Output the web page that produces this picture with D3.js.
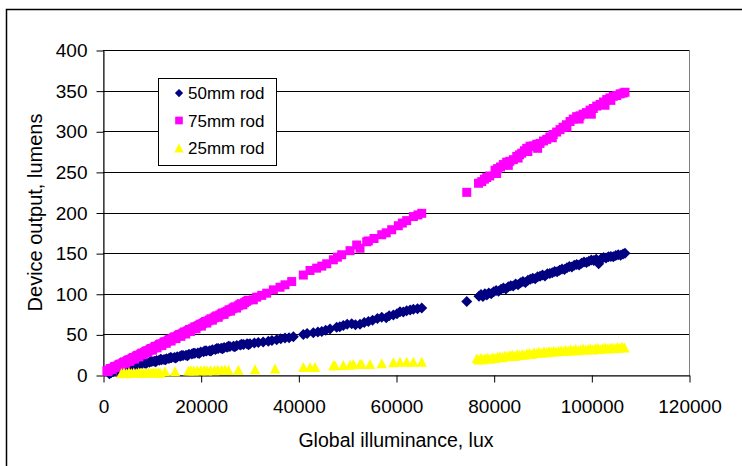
<!DOCTYPE html>
<html>
<head>
<meta charset="utf-8">
<script src="https://cdnjs.cloudflare.com/ajax/libs/d3/7.8.5/d3.min.js"></script>
<style>
  html, body { margin: 0; padding: 0; background: #fff; }
  svg { display: block; }
  text { font-family: "Liberation Sans", Arial, sans-serif; fill: #000; }
</style>
</head>
<body>
<svg id="chart" width="742" height="466"></svg>
<script>
// ---------------- DATA ----------------
const xTicks = [0, 20000, 40000, 60000, 80000, 100000, 120000];
const yTicks = [0, 50, 100, 150, 200, 250, 300, 350, 400];
const seriesNames = ["50mm rod", "75mm rod", "25mm rod"];
const seriesColors = ["#000080", "#FF00FF", "#FFFF00"];
const xTitle = "Global illuminance, lux";
const yTitle = "Device output, lumens";

// 50mm rod
const rod50X = [1300,1500,1700,2100,2300,2500,2900,3100,3300,3700,3900,4100,4600,4800,5000,5500,5800,6000,6500,6800,7000,7500,7800,8000,8500,8800,9000,9500,9800,10000,10500,10800,11000,11500,11800,12000,12500,12800,13000,13500,13800,14000,14600,14900,15200,15800,16100,16400,17000,17300,17600,18200,18500,18800,19400,19700,20000,20600,20900,21200,21800,22100,22400,23000,23300,23600,24200,24500,24800,25400,25700,26000,26700,27000,27400,28100,28400,28800,29500,29800,
  30100,31000,31810,32800,33850,34600,35570,36400,37270,38100,38980,41020,41800,43070,44000,44790,45600,46490,47860,48500,49210,50000,50930,51700,52630,53500,54340,55200,56200,57080,58000,58600,59460,60200,60820,61500,62190,62900,63560,64400,65270,
  74490,77000,77400,77800,78200,78600,79000,79500,80000,80500,81000,81500,82000,82500,83000,83500,84000,84500,85000,85500,86000,86500,87000,87500,88000,88500,89000,89500,90000,90500,91000,91500,92000,92500,93000,93500,94000,94500,95000,95500,96000,96500,97000,97500,98000,98500,99000,99500,100000,100500,101000,101500,102000,102500,103000,103500,104000,104500,105000,105500,106000,106500,106900];
const rod50Y = [1.5,2.5,3.0,4.2,5.8,5.5,6.8,6.5,7.9,8.9,9.8,9.6,10.4,9.5,10.8,11.6,12.6,12.0,12.7,12.0,13.1,13.8,14.9,14.1,14.8,14.1,15.3,15.7,16.9,16.5,16.9,16.4,17.8,18.1,19.3,18.9,19.2,18.8,20.0,20.3,21.4,21.2,21.6,21.0,22.6,23.0,24.1,24.0,24.3,23.6,25.4,25.8,26.9,26.8,27.1,26.4,28.3,28.6,29.8,29.6,30.0,29.4,31.0,31.3,32.6,32.5,32.8,32.2,33.8,34.2,35.4,35.0,35.5,34.7,36.4,37.0,37.9,37.6,38.4,37.2,
  38.5,39.5,40,40.5,41.5,42.5,43.5,44.5,45.5,46,47,50,51,52,53,53.5,55,56.5,58.8,59.5,61,62.5,63,62,62.5,64.5,66,67.5,69.5,71,70.5,73,74,75.5,78,77.5,79,80,81,81.5,82.5,
  90.5,97,99,96.5,100,98.5,101,100,102.5,104,103,105.5,107,106,108.5,110,109.5,112,111,113.5,115,114,116.5,118,119,118.5,121,121.5,123,122,124.5,125,126,127.5,127,129,130.5,130,132,133.5,133,135,136,135.5,137.5,139,138.5,140,141.5,141,142.5,137,143,144.5,144,145.5,146,145.5,147,148,147.5,149,150];

// 75mm rod
const rod75X = [800,1000,1200,1450,1700,1900,2100,2350,2600,2800,3000,3250,3500,3700,3900,4150,4400,4600,4800,5050,5300,5500,5700,5950,6200,6450,6700,6900,7100,7350,7600,7800,8000,8250,8500,8750,9000,9200,9400,9650,9900,10150,10400,10600,10800,11050,11300,11550,11800,12050,12300,12500,12700,12950,13200,13450,13700,13950,14200,14450,14700,14950,15200,15450,15700,15950,16200,16450,16700,16950,17200,17450,17700,17950,18300,18550,18800,19050,19300,19600,19900,20150,20400,20700,21000,21250,21500,21800,22100,22400,22700,23000,23300,23600,23900,24200,24500,24800,25100,25450,25800,26100,26400,26700,27000,27350,27700,28000,28300,28650,29000,29350,29700,
  30780,31480,32500,33520,34890,36250,37270,38640,41020,42390,43760,44800,45810,47170,48000,48880,50590,51950,52630,54000,54340,55500,57080,58000,59120,60480,61300,62190,63560,64500,65270,
  74490,76900,77560,78100,78580,79200,80280,80600,80800,81400,81980,82670,83000,83300,84030,84720,85000,85300,85750,86300,86770,87000,87450,88100,88820,89000,89500,90200,90870,91500,92000,92200,92900,93590,94200,94900,95000,95640,96300,97000,97500,97690,98300,99000,99740,100000,100400,101100,101790,102500,102800,103150,103800,104000,104510,105200,105900,106500,106900];
const rod75Y = [5.3,4.2,5.8,7.9,8.0,6.9,8.5,10.2,10.7,9.4,11.1,12.7,13.4,12.0,13.9,15.3,16.1,14.4,16.5,17.9,18.8,16.8,19.2,20.5,21.5,19.6,22.2,23.4,24.2,22.3,24.9,26.1,26.9,25.0,27.6,28.9,29.9,27.8,30.3,31.8,32.6,30.6,33.3,34.6,35.3,33.4,36.0,37.4,38.3,36.2,39.0,40.3,41.0,39.0,41.7,43.1,44.0,41.8,44.7,46.0,47.0,44.8,47.7,48.9,50.0,47.6,50.7,51.8,53.0,50.5,53.7,54.6,56.0,53.6,57.0,57.6,59.3,56.9,60.0,60.9,62.6,60.2,63.3,64.6,65.9,63.9,66.6,67.7,69.2,67.5,70.2,71.5,72.8,71.0,73.8,75.1,76.4,74.6,77.4,78.4,80.3,78.6,81.3,82.6,83.9,82.4,85.2,86.5,87.8,86.4,89.1,90.5,92.0,
  92.5,95.8,98,100.7,104.8,108,111,115,123,128.6,131.5,134,136.9,141.8,145,148,153,160,156,164,165,168,172.6,175,178.8,183.7,187,190,195,197,199,
  224.8,236,238,241,243,245,252,248,254,256,259,262,258,263,265,269,267,271,273,276,279,275,281.5,282,284,279,285,288,290,293,292,296,299,302,305,308,305,312,315,318,315,319,321,323,326,321,328,331,333,336,332,339,341,338,343,344,346,347,348];

// 25mm rod
const rod25X = [3800,4300,4800,5300,5800,6300,6800,7300,7800,8300,8800,9300,9800,10300,10800,11300,11700,12700,14750,17500,18000,18600,19300,20000,20700,21300,22000,22800,23500,24300,25000,25700,27710,31130,35230,41020,42390,43420,47170,47510,49210,50590,51260,52630,52970,54680,57080,59460,60820,62190,63560,65270,
  76530,77000,77400,77800,78300,78800,79300,79800,80300,80800,81300,81800,82300,82800,83300,83800,84300,84800,85300,85800,86300,86800,87300,87800,88300,88800,89300,89800,90300,90800,91300,91800,92300,92800,93300,93800,94300,94800,95300,95800,96300,96800,97300,97800,98300,98800,99300,99800,100300,100800,101300,101800,102300,102800,103300,103800,104300,104800,105300,105800,106300,106800];
const rod25Y = [2.5,3.0,2.2,3.3,2.6,3.1,2.4,3.5,2.8,3.2,2.5,3.4,2.9,3.6,3.0,3.3,2.7,4.5,4.5,5.5,6.0,5.5,6.0,5.8,6.2,5.6,6.3,5.9,6.5,6.4,6.8,6.3,6.5,7.0,8.0,10,10,10,12,12,12.3,12.5,13.6,13.6,13.5,13.5,14.4,15.6,16.4,16.4,16.4,16.4,
  20.5,19,21,19.5,20.5,21.5,20,22,21,22.5,23,22,24,23,24.5,25,23.5,25.5,24.5,26,25,26.5,27,26,28,27,28.5,27.5,29,28,29.5,28.5,30,29,29.5,30.5,29.5,31,30,31.5,30.5,32,30.5,31.5,32.5,31,32,33,31.5,32.5,33.5,32,33,34,32.5,33.5,34,33,34.5,33.5,35,34];

// ---------------- CHART ----------------
const svg = d3.select("#chart");
const W = 742, H = 466;
const plot = {left: 103, right: 689, top: 50, bottom: 375};

svg.append("rect").attr("x", 0).attr("y", 0).attr("width", W).attr("height", H).attr("fill", "#fff");
// outer chart border
svg.append("rect").attr("x", 6.5).attr("y", 9.5).attr("width", 800).attr("height", 600)
  .attr("fill", "none").attr("stroke", "#000").attr("stroke-width", 1.5);

const x = d3.scaleLinear().domain([0, 120000]).range([plot.left, plot.right]);
const y = d3.scaleLinear().domain([0, 400]).range([plot.bottom, plot.top]);

// plot area border
svg.append("rect").attr("x", plot.left + 0.5).attr("y", plot.top + 0.5)
  .attr("width", plot.right - plot.left).attr("height", plot.bottom - plot.top)
  .attr("fill", "#fff").attr("stroke", "#808080").attr("stroke-width", 1);

// gridlines
svg.append("g").selectAll("line").data(yTicks.filter(d => d > 0)).join("line")
  .attr("x1", plot.left).attr("x2", plot.right)
  .attr("y1", d => Math.round(y(d)) + 0.5).attr("y2", d => Math.round(y(d)) + 0.5)
  .attr("stroke", "#000").attr("stroke-width", 1);

// axes
const yAxis = svg.append("g").attr("transform", `translate(${plot.left + 0.5},0.5)`)
  .call(d3.axisLeft(y).tickValues(yTicks).tickSize(7).tickPadding(9).tickSizeOuter(0));
yAxis.select(".domain").attr("stroke", "#000");
yAxis.selectAll(".tick line").attr("stroke", "#000");
yAxis.selectAll("text").attr("font-size", "19px").style("font-family", '"Liberation Sans", Arial, sans-serif');

const xAxis = svg.append("g").attr("transform", `translate(0.5,${plot.bottom + 0.5})`)
  .call(d3.axisBottom(x).tickValues(xTicks).tickSize(7).tickSizeOuter(0).tickFormat(d3.format("d")));
xAxis.select(".domain").attr("stroke", "#000");
xAxis.selectAll(".tick line").attr("stroke", "#000");
xAxis.selectAll("text").attr("font-size", "19px").attr("y", 37).attr("dy", 0)
  .style("font-family", '"Liberation Sans", Arial, sans-serif');

// axis titles
svg.append("text").attr("x", (plot.left + plot.right) / 2).attr("y", 446.5)
  .attr("text-anchor", "middle").attr("font-size", "19.5px").text(xTitle);
svg.append("text").attr("transform", `translate(42,${(plot.top + plot.bottom) / 2}) rotate(-90)`)
  .attr("text-anchor", "middle").attr("font-size", "20px").text(yTitle);

// markers
const shapes = {
  diamond: "M0,-5.5L5.5,0L0,5.5L-5.5,0Z",
  square: "M-4.5,-4.5L4.5,-4.5L4.5,4.5L-4.5,4.5Z",
  triangle: "M0,-5L5.2,5L-5.2,5Z"
};
const series = [
  {xs: rod50X, ys: rod50Y, shape: shapes.diamond, color: seriesColors[0]},
  {xs: rod75X, ys: rod75Y, shape: shapes.square, color: seriesColors[1]},
  {xs: rod25X, ys: rod25Y, shape: shapes.triangle, color: seriesColors[2]}
];
series.forEach(s => {
  const pts = s.xs.map((v, i) => [v, s.ys[i]]);
  svg.append("g").selectAll("path").data(pts).join("path")
    .attr("d", s.shape)
    .attr("transform", d => `translate(${x(d[0])},${y(d[1])})`)
    .attr("fill", s.color);
});

// legend
const lg = svg.append("g");
lg.append("rect").attr("x", 158.5).attr("y", 78.5).attr("width", 118).attr("height", 87)
  .attr("fill", "#fff").attr("stroke", "#000").attr("stroke-width", 1);
const legendShapes = [shapes.diamond, shapes.square, shapes.triangle];
const legendScale = [0.75, 0.85, 0.9];
const rowY = [93, 120.5, 148];
seriesNames.forEach((n, i) => {
  lg.append("path").attr("d", legendShapes[i])
    .attr("transform", `translate(179,${rowY[i]}) scale(${legendScale[i]})`)
    .attr("fill", seriesColors[i]);
  lg.append("text").attr("x", 188).attr("y", rowY[i]).attr("dy", "0.36em")
    .attr("font-size", "17px").text(n);
});
</script>
</body>
</html>
